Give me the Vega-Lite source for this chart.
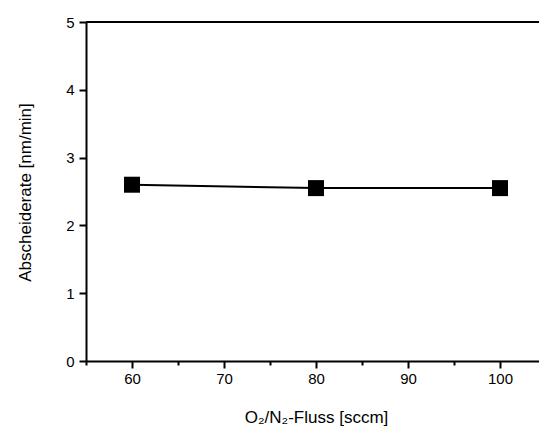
{
  "$schema": "https://vega.github.io/schema/vega-lite/v6.json",
  "width": 453,
  "height": 339,
  "autosize": {"type": "none"},
  "padding": {"left": 86, "top": 22, "right": 0, "bottom": 70},
  "background": "white",
  "config": {
    "view": {"stroke": null},
    "font": "Liberation Sans",
    "axis": {"grid": false, "domainColor": "black", "domainWidth": 2, "tickColor": "black", "tickWidth": 2, "labelColor": "black", "titleColor": "black", "labelFont": "Liberation Sans", "titleFont": "Liberation Sans", "labelFontSize": 15, "titleFontSize": 17, "titleFontWeight": "normal"}
  },
  "data": {"values": [
    {"flow": 60, "rate": 2.6},
    {"flow": 80, "rate": 2.55},
    {"flow": 100, "rate": 2.55}
  ]},
  "layer": [
    {"mark": {"type": "rule", "color": "black", "strokeWidth": 2},
      "encoding": {"y": {"datum": 5, "type": "quantitative"}}},
    {"mark": {"type": "line", "color": "black", "strokeWidth": 2},
      "encoding": {
        "x": {"field": "flow", "type": "quantitative", "scale": {"domain": [55, 104.24], "nice": false, "zero": false},
          "axis": {"title": "O₂/N₂-Fluss [sccm]", "values": [55, 60, 65, 70, 75, 80, 85, 90, 95, 100], "labelExpr": "datum.value % 10 === 0 ? format(datum.value, 'd') : ''",
            "tickSize": {"condition": {"test": "datum.value % 10 === 0", "value": 7}, "value": 4},
            "labelPadding": 3, "titleX": 230, "titleY": 56, "titleBaseline": "middle", "titleAlign": "center"}},
        "y": {"field": "rate", "type": "quantitative", "scale": {"domain": [0, 5], "nice": false},
          "axis": {"title": "Abscheiderate [nm/min]", "values": [0, 0.5, 1, 1.5, 2, 2.5, 3, 3.5, 4, 4.5, 5], "labelExpr": "datum.value % 1 === 0 ? format(datum.value, 'd') : ''",
            "tickSize": {"condition": {"test": "datum.value % 1 === 0", "value": 7}, "value": 4},
            "labelPadding": 5, "titleX": -61, "titleY": 170, "titleAngle": -90, "titleAlign": "center", "titleBaseline": "middle"}}
      }},
    {"mark": {"type": "square", "color": "black", "size": 256, "opacity": 1, "filled": true},
      "encoding": {
        "x": {"field": "flow", "type": "quantitative"},
        "y": {"field": "rate", "type": "quantitative"}
      }}
  ]
}
